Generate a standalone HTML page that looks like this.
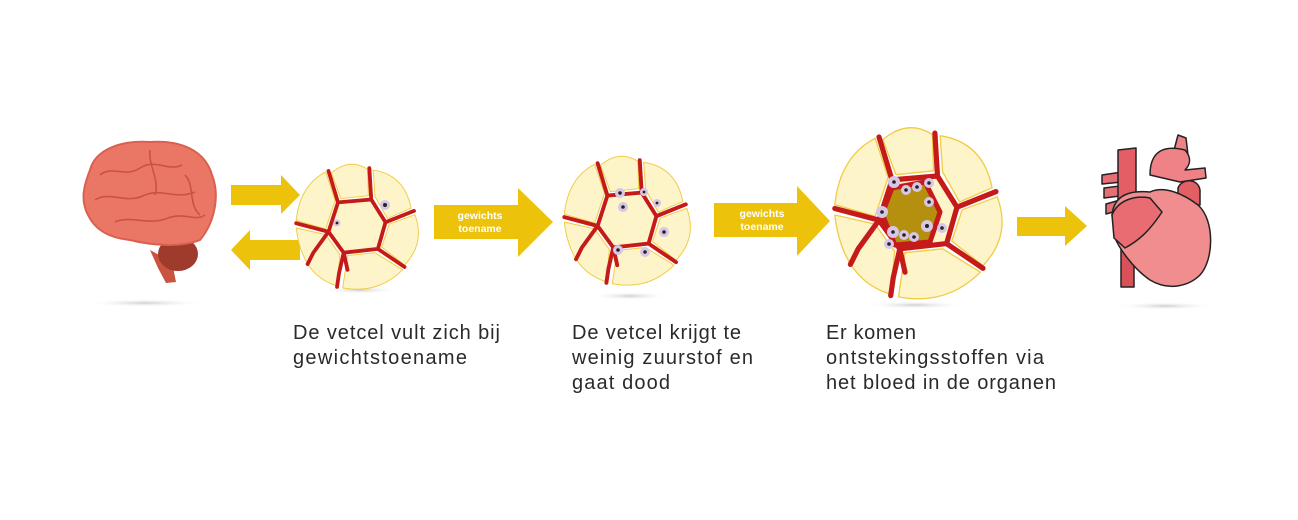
<!DOCTYPE html>
<html><head><meta charset="utf-8"><style>
html,body{margin:0;padding:0;background:#fff;}
svg{display:block;}
text{font-family:"Liberation Sans",sans-serif;}
</style></head><body>
<svg width="1298" height="520" viewBox="0 0 1298 520" xmlns="http://www.w3.org/2000/svg">
<defs>
<radialGradient id="sh" cx="50%" cy="50%" r="50%">
<stop offset="0" stop-color="#cfcfcf"/><stop offset="1" stop-color="#fff" stop-opacity="0"/>
</radialGradient>
<g id="cl">
<g fill="#fdf5c9" stroke="#f0cc45" stroke-width="1" stroke-linejoin="round">
<path d="M-20,-27 L15,-30 L30,-6 L22,22 L-14,26 L-30,4 Z"/>
<path d="M-17,-31 L-27,-58 Q-8,-74 11,-62 L12,-34 Z"/>
<path d="M19,-33 L17,-61 Q50,-56 57,-21 L32,-10 Z"/>
<path d="M34,-4 L61,-14 Q72,16 50,39 L26,20 Z"/>
<path d="M19,26 L48,44 Q22,70 -15,63 L-10,29 Z"/>
<path d="M-18,28 L-21,61 Q-58,50 -64,0 L-33,7 Z"/>
<path d="M-33,1 L-64,-8 Q-60,-45 -33,-59 L-23,-29 Z"/>
</g>
<g fill="none" stroke="#c41a1a" stroke-width="4" stroke-linecap="round" stroke-linejoin="round">
<path d="M-20,-27 L15,-30 L30,-6 L22,22 L-14,26 L-30,4 Z"/>
<path d="M-20,-27 L-30,-60"/><path d="M15,-30 L13,-63"/>
<path d="M30,-6 L60,-18"/><path d="M22,22 L50,41"/>
<path d="M-14,26 L-19,48 L-21,62"/><path d="M-30,4 L-64,-5"/>
<path d="M-30,4 L-46,26 L-52,38"/><path d="M-14,26 L-10,44"/>
</g>
</g>
</defs>

<ellipse cx="145" cy="303" rx="60" ry="4" fill="url(#sh)"/>
<ellipse cx="360" cy="290" rx="38" ry="4" fill="url(#sh)"/>
<ellipse cx="630" cy="296" rx="38" ry="4" fill="url(#sh)"/>
<ellipse cx="915" cy="305" rx="50" ry="4" fill="url(#sh)"/>
<ellipse cx="1165" cy="306" rx="50" ry="4" fill="url(#sh)"/>

<!-- brain -->
<path d="M150,250 L158,268 L166,283 L176,282 L172,262 Z" fill="#c9533f"/>
<ellipse cx="178" cy="254" rx="20" ry="17" fill="#9e3b2c"/>
<path d="M90,170 C95,150 120,140 150,142 C180,140 205,150 212,175 C220,195 215,222 200,240 C180,248 150,245 130,240 C110,238 95,230 88,215 C80,200 84,185 90,170 Z" fill="#ea7766" stroke="#d9604f" stroke-width="2"/>
<g fill="none" stroke="#c9533f" stroke-width="1.6">
<path d="M100,175 C112,165 125,178 140,168 C155,158 168,172 182,165"/>
<path d="M95,200 C110,190 125,205 145,195 C162,188 175,200 195,192"/>
<path d="M115,222 C130,215 150,226 168,218 C185,212 195,222 205,215"/>
<path d="M150,150 C148,165 160,180 155,195"/>
<path d="M185,175 C195,185 188,205 200,215"/>
</g>

<!-- arrows -->
<g fill="#ecc20a">
<path d="M231,185 L281,185 L281,175 L300,195 L281,214 L281,205 L231,205 Z"/>
<path d="M300,240 L250,240 L250,230 L231,250 L250,270 L250,260 L300,260 Z"/>
<path d="M434,205 L518,205 L518,188 L553,222 L518,257 L518,239 L434,239 Z"/>
<path d="M714,203 L797,203 L797,186 L830,221 L797,256 L797,237 L714,237 Z"/>
<path d="M1017,217 L1065,217 L1065,206 L1087,226 L1065,246 L1065,236 L1017,236 Z"/>
</g>
<g fill="#fff" font-weight="bold" font-size="10.5" text-anchor="middle">
<text x="480" y="219">gewichts</text><text x="480" y="232">toename</text>
<text x="762" y="217">gewichts</text><text x="762" y="230">toename</text>
</g>

<!-- clusters -->
<use href="#cl" transform="translate(357,228) scale(0.95)"/>
<circle cx="385" cy="205" r="5" fill="#d8c6e6"/><circle cx="385" cy="205" r="2" fill="#222"/>
<circle cx="337" cy="223" r="3.5" fill="#d8c6e6"/><circle cx="337" cy="223" r="1.4" fill="#222"/>

<use href="#cl" transform="translate(627,222) scale(0.98)"/>
<g fill="#d8c6e6"><circle cx="620" cy="193" r="5"/><circle cx="623" cy="207" r="5"/><circle cx="644" cy="192" r="4"/><circle cx="657" cy="203" r="4"/><circle cx="664" cy="232" r="5"/><circle cx="645" cy="252" r="5"/><circle cx="618" cy="250" r="5"/></g>
<g fill="#222"><circle cx="620" cy="193" r="1.8"/><circle cx="623" cy="207" r="1.8"/><circle cx="644" cy="192" r="1.4"/><circle cx="657" cy="203" r="1.4"/><circle cx="664" cy="232" r="1.8"/><circle cx="645" cy="252" r="1.8"/><circle cx="618" cy="250" r="1.8"/></g>

<use href="#cl" transform="translate(918,215) scale(1.3)"/>
<path d="M892,188 L925,182 L940,212 L930,242 L895,245 L882,214 Z" fill="#b58f0e" stroke="#c41a1a" stroke-width="5" stroke-linejoin="round"/>
<g fill="#d8c6e6"><circle cx="894" cy="182" r="6"/><circle cx="906" cy="190" r="5"/><circle cx="917" cy="187" r="5"/><circle cx="929" cy="183" r="5"/><circle cx="929" cy="202" r="5"/><circle cx="882" cy="212" r="6"/><circle cx="927" cy="226" r="6"/><circle cx="942" cy="228" r="5"/><circle cx="893" cy="232" r="6"/><circle cx="904" cy="235" r="5"/><circle cx="914" cy="237" r="5"/><circle cx="889" cy="244" r="5"/></g>
<g fill="#222"><circle cx="894" cy="182" r="1.8"/><circle cx="906" cy="190" r="1.8"/><circle cx="917" cy="187" r="1.8"/><circle cx="929" cy="183" r="1.8"/><circle cx="929" cy="202" r="1.8"/><circle cx="882" cy="212" r="1.8"/><circle cx="927" cy="226" r="2"/><circle cx="942" cy="228" r="1.8"/><circle cx="893" cy="232" r="1.8"/><circle cx="904" cy="235" r="1.8"/><circle cx="914" cy="237" r="1.8"/><circle cx="889" cy="244" r="1.8"/></g>

<!-- heart -->
<g stroke="#222" stroke-width="1.5" stroke-linejoin="round">
<rect x="1121" y="245" width="13" height="42" fill="#d9525a"/>
<path d="M1102,175 L1122,172 L1122,182 L1102,184 Z M1104,188 L1120,186 L1120,196 L1104,198 Z M1106,204 L1120,200 L1120,210 L1106,214 Z" fill="#e56f75"/>
<path d="M1172,158 L1178,135 L1186,138 L1188,155 Z" fill="#ef8286"/>
<path d="M1118,150 L1136,148 L1136,195 L1118,200 Z" fill="#e45e66"/>
<path d="M1150,175 C1150,150 1165,145 1185,150 C1192,158 1190,165 1185,170 L1205,168 L1206,178 L1180,182 Z" fill="#ef8286"/>
<path d="M1178,188 C1182,178 1198,178 1200,190 L1200,205 L1178,205 Z" fill="#e45e66"/>
<path d="M1112,215 C1114,195 1130,190 1150,192 C1165,185 1185,195 1198,205 C1215,220 1214,260 1200,275 C1190,285 1170,292 1150,280 C1135,270 1120,250 1115,238 Z" fill="#f08d8f"/>
<path d="M1112,215 C1118,200 1135,195 1150,198 L1162,212 C1150,230 1140,240 1125,248 L1114,238 Z" fill="#e86c72"/>
</g>

<!-- labels -->
<g font-size="20" fill="#2a2a2a" lengthAdjust="spacing">
<text x="293" y="339" textLength="207">De vetcel vult zich bij</text>
<text x="293" y="364" textLength="174">gewichtstoename</text>
<text x="572" y="339" textLength="169">De vetcel krijgt te</text>
<text x="572" y="364" textLength="181">weinig zuurstof en</text>
<text x="572" y="389" textLength="98">gaat dood</text>
<text x="826" y="339" textLength="90">Er komen</text>
<text x="826" y="364" textLength="218">ontstekingsstoffen via</text>
<text x="826" y="389" textLength="230">het bloed in de organen</text>
</g>
</svg>
</body></html>
